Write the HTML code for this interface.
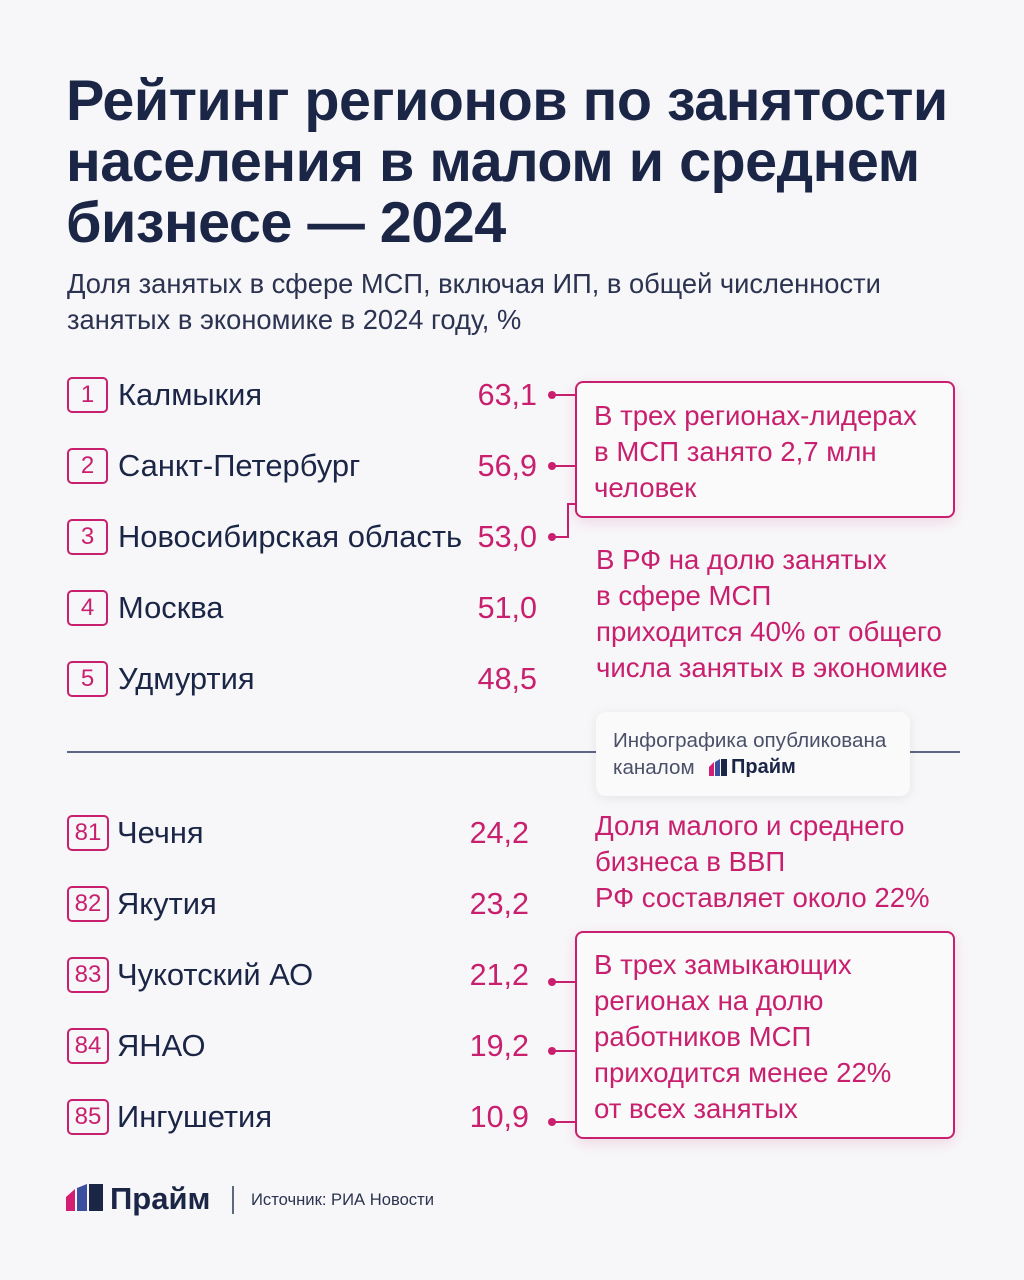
<!DOCTYPE html>
<html><head><meta charset="utf-8"><style>
*{margin:0;padding:0;box-sizing:border-box}
body{width:1024px;height:1280px;background:#f7f7f9;font-family:"Liberation Sans",sans-serif;position:relative;overflow:hidden;color:#1b2647}
.a{position:absolute;white-space:nowrap}
.t{font-weight:bold;font-size:57.5px;line-height:62px;left:66px;letter-spacing:-0.5px}
.sub{font-size:27.3px;line-height:36px;left:67px;color:#2b3350}
.box{position:absolute;left:67px;width:41px;height:36px;border:2px solid #c8206e;border-radius:5px;color:#c8206e;font-size:24px;text-align:center;line-height:32px}
.nm{font-size:30.9px;line-height:40px;color:#1b2647}
.v{font-size:30.5px;line-height:40px;color:#c8206e;text-align:right;width:100px}
.dot{position:absolute;width:8px;height:8px;border-radius:50%;background:#c8206e}
.hl{position:absolute;height:2px;background:#c8206e}
.vl{position:absolute;width:2px;background:#c8206e}
.call{position:absolute;border:2px solid #c8206e;border-radius:8px;background:#fafafb;box-shadow:0 4px 14px rgba(200,32,110,0.15)}
.pk{font-size:27.6px;line-height:36px;color:#c8206e}
</style></head><body>
<div class="a t" style="top:70px">Рейтинг регионов по занятости</div>
<div class="a t" style="top:131px">населения в малом и среднем</div>
<div class="a t" style="top:192px">бизнесе — 2024</div>
<div class="a sub" style="top:266px">Доля занятых в сфере МСП, включая ИП, в общей численности</div>
<div class="a sub" style="top:302px">занятых в экономике в 2024 году, %</div>

<div class="box" style="top:377px">1</div><div class="a nm" style="left:118px;top:375px">Калмыкия</div><div class="a v" style="left:437px;top:375px">63,1</div>
<div class="box" style="top:448px">2</div><div class="a nm" style="left:118px;top:446px">Санкт-Петербург</div><div class="a v" style="left:437px;top:446px">56,9</div>
<div class="box" style="top:519px">3</div><div class="a nm" style="left:118px;top:517px">Новосибирская область</div><div class="a v" style="left:437px;top:517px">53,0</div>
<div class="box" style="top:590px">4</div><div class="a nm" style="left:118px;top:588px">Москва</div><div class="a v" style="left:437px;top:588px">51,0</div>
<div class="box" style="top:661px">5</div><div class="a nm" style="left:118px;top:659px">Удмуртия</div><div class="a v" style="left:437px;top:659px">48,5</div>

<div class="dot" style="left:548px;top:391px"></div><div class="hl" style="left:552px;top:394px;width:24px"></div>
<div class="dot" style="left:548px;top:462px"></div><div class="hl" style="left:552px;top:465px;width:24px"></div>
<div class="dot" style="left:548px;top:533px"></div><div class="hl" style="left:552px;top:536px;width:16px"></div>
<div class="vl" style="left:567px;top:503px;height:35px"></div><div class="hl" style="left:567px;top:503px;width:9px"></div>
<div class="call" style="left:575px;top:381px;width:380px;height:137px"></div>
<div class="a pk" style="left:594px;top:398px">В трех регионах-лидерах</div>
<div class="a pk" style="left:594px;top:434px">в МСП занято 2,7 млн</div>
<div class="a pk" style="left:594px;top:470px">человек</div>

<div class="a pk" style="left:596px;top:542px">В РФ на долю занятых</div>
<div class="a pk" style="left:596px;top:578px">в сфере МСП</div>
<div class="a pk" style="left:596px;top:614px">приходится 40% от общего</div>
<div class="a pk" style="left:596px;top:650px">числа занятых в экономике</div>

<div style="position:absolute;left:67px;top:751px;width:893px;height:2px;background:#5d6784"></div>
<div style="position:absolute;left:596px;top:712px;width:314px;height:84px;background:#fafafb;border-radius:10px;box-shadow:0 2px 12px rgba(0,0,0,0.08)"></div>
<div class="a" style="left:613px;top:729px;font-size:20.6px;line-height:24px;color:#4a5068">Инфографика опубликована</div>
<div class="a" style="left:613px;top:756px;font-size:20.6px;line-height:24px;color:#4a5068">каналом</div>
<svg class="a" style="left:709px;top:759px" width="20" height="17"><polygon points="0,8 5,3 5,17 0,17" fill="#d41e74"/><polygon points="6,3 11,0 11,17 6,17" fill="#3a4fa0"/><polygon points="12,0 18,0 18,17 12,17" fill="#1b2647"/></svg>
<div class="a" style="left:731px;top:755px;font-size:20px;line-height:24px;font-weight:bold;color:#1b2647">Прайм</div>

<div class="box" style="top:815px;width:42px">81</div><div class="a nm" style="left:117px;top:813px">Чечня</div><div class="a v" style="left:429px;top:813px">24,2</div>
<div class="box" style="top:886px;width:42px">82</div><div class="a nm" style="left:117px;top:884px">Якутия</div><div class="a v" style="left:429px;top:884px">23,2</div>
<div class="box" style="top:957px;width:42px">83</div><div class="a nm" style="left:117px;top:955px">Чукотский АО</div><div class="a v" style="left:429px;top:955px">21,2</div>
<div class="box" style="top:1028px;width:42px">84</div><div class="a nm" style="left:117px;top:1026px">ЯНАО</div><div class="a v" style="left:429px;top:1026px">19,2</div>
<div class="box" style="top:1099px;width:42px">85</div><div class="a nm" style="left:117px;top:1097px">Ингушетия</div><div class="a v" style="left:429px;top:1097px">10,9</div>

<div class="a pk" style="left:595px;top:808px">Доля малого и среднего</div>
<div class="a pk" style="left:595px;top:844px">бизнеса в ВВП</div>
<div class="a pk" style="left:595px;top:880px">РФ составляет около 22%</div>

<div class="dot" style="left:548px;top:978px"></div><div class="hl" style="left:552px;top:981px;width:24px"></div>
<div class="dot" style="left:548px;top:1047px"></div><div class="hl" style="left:552px;top:1050px;width:24px"></div>
<div class="dot" style="left:548px;top:1118px"></div><div class="hl" style="left:552px;top:1121px;width:24px"></div>
<div class="call" style="left:575px;top:931px;width:380px;height:208px"></div>
<div class="a pk" style="left:594px;top:947px">В трех замыкающих</div>
<div class="a pk" style="left:594px;top:983px">регионах на долю</div>
<div class="a pk" style="left:594px;top:1019px">работников МСП</div>
<div class="a pk" style="left:594px;top:1055px">приходится менее 22%</div>
<div class="a pk" style="left:594px;top:1091px">от всех занятых</div>

<svg class="a" style="left:66px;top:1184px" width="40" height="27"><polygon points="0,13 9,5 9,27 0,27" fill="#d41e74"/><polygon points="11,4 21,0 21,27 11,27" fill="#3a4fa0"/><polygon points="23,0 37,0 37,27 23,27" fill="#1b2647"/></svg>
<div class="a" style="left:110px;top:1181px;font-size:31px;line-height:36px;font-weight:bold;color:#1b2647">Прайм</div>
<div style="position:absolute;left:232px;top:1186px;width:2px;height:28px;background:#5d6784"></div>
<div class="a" style="left:251px;top:1190px;font-size:16.6px;line-height:20px;color:#2b3350">Источник: РИА Новости</div>
</body></html>
